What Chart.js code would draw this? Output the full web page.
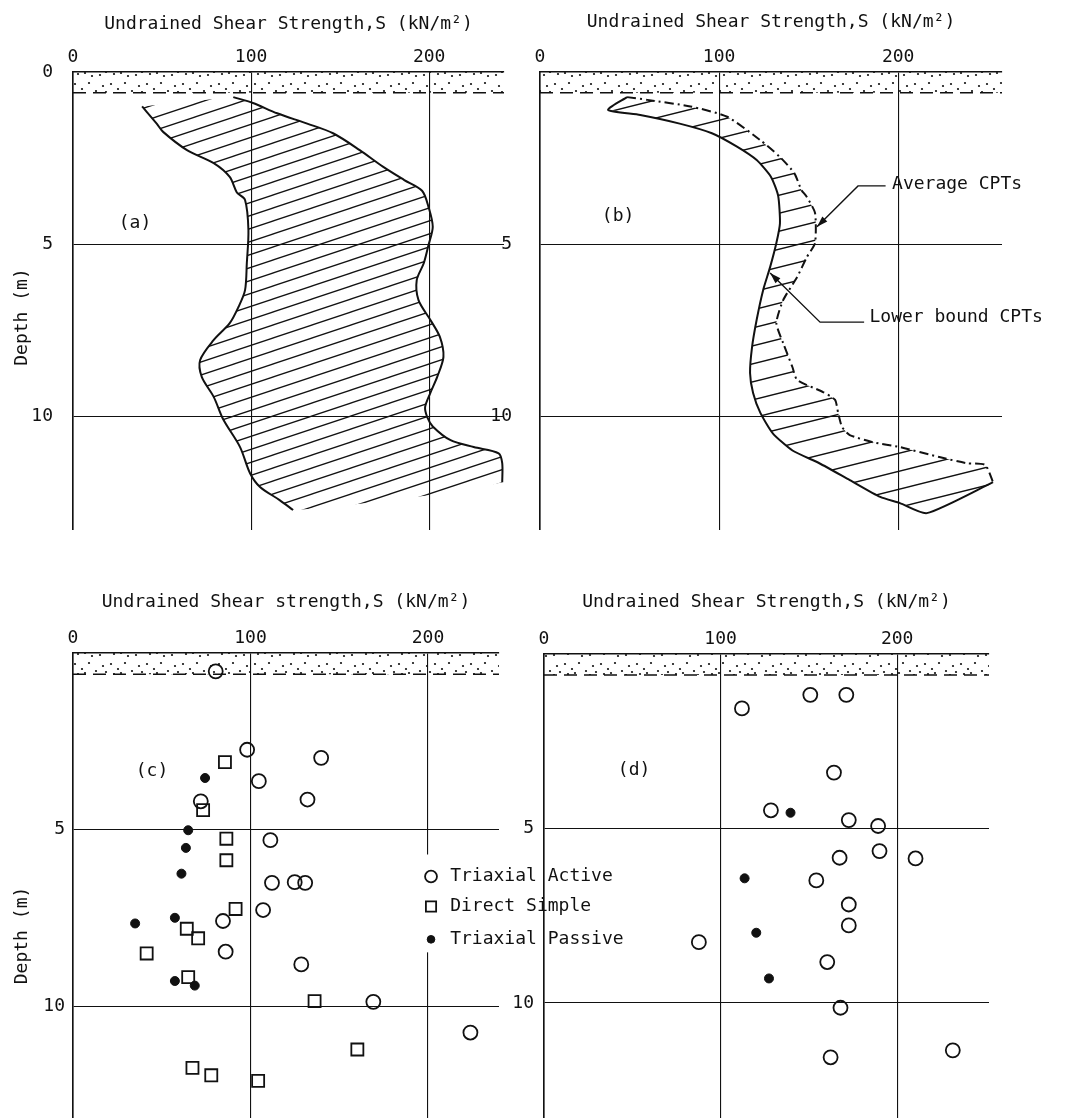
<!DOCTYPE html>
<html lang="en">
<head>
<meta charset="utf-8">
<title>Undrained shear strength profiles</title>
<script src="https://cdn.jsdelivr.net/npm/chart.js@4.4.1/dist/chart.umd.min.js"></script>
<style>
  html, body { margin: 0; background: #fff; }
  #page { position: relative; width: 1072px; height: 1118px; overflow: hidden; }
  #page canvas { position: absolute; }
</style>
</head>
<body>
<div id="page">
  <canvas id="panelA" width="530" height="545" style="left:0px;top:0px"></canvas>
  <canvas id="panelB" width="592" height="545" style="left:480px;top:0px"></canvas>
  <canvas id="panelC" width="660" height="572" style="left:0px;top:560px"></canvas>
  <canvas id="panelD" width="582" height="572" style="left:490px;top:560px"></canvas>
</div>
<script>
const strengthTicks = [0, 100, 200];
const depthTicks = [0, 5, 10];
const surfaceCrust = 0.6; // m, dotted crust at the top of every profile
const seriesNames = ['Triaxial Active', 'Direct Simple', 'Triaxial Passive'];

// (a) range of strength, left and right edge of the hatched band
const aLowS = [38.8, 47, 50.6, 64, 79, 88, 92, 96.6, 98.5, 97.6, 96.6, 92.9, 88, 78.8, 71.4, 72.3, 79, 84.4, 93.8, 99.4, 105, 116, 123.6];
const aLowZ = [1.0, 1.5, 1.74, 2.27, 2.65, 3.05, 3.5, 3.72, 4.6, 5.55, 6.34, 6.83, 7.3, 7.8, 8.37, 8.86, 9.44, 10.1, 10.9, 11.66, 12.06, 12.44, 12.73];
const aHighS = [90, 101, 114.6, 131.5, 146, 161, 174, 186, 196, 199.6, 202, 199.6, 197, 193, 194, 200.6, 206, 208, 204.5, 200.6, 197.7, 198.9, 202, 212, 225, 239, 241, 241];
const aHighZ = [0.73, 0.9, 1.2, 1.5, 1.78, 2.27, 2.75, 3.14, 3.45, 3.92, 4.5, 5.03, 5.55, 6.05, 6.63, 7.2, 7.7, 8.28, 8.86, 9.33, 9.74, 10.03, 10.3, 10.7, 10.9, 11.08, 11.37, 11.92];

// (b) CPT profiles
const bLowerS = [38, 56, 78, 96, 110, 121, 129, 133, 134, 132, 128.5, 124.6, 121, 118.4, 117.3, 119, 123, 130, 141, 156, 173, 190, 201, 216];
const bLowerZ = [1.1, 1.25, 1.5, 1.78, 2.17, 2.56, 3.05, 3.6, 4.4, 4.97, 5.67, 6.34, 7.2, 8.0, 8.75, 9.33, 9.9, 10.5, 11.0, 11.37, 11.86, 12.35, 12.53, 12.82];
const bAverageS = [48.6, 60, 84, 104.5, 123, 134, 142, 146, 149, 153.6, 153.6, 149, 143.6, 135.8, 132, 135.8, 141, 143.6, 158, 164.8, 166.5, 168.7, 173, 186, 201, 223, 238.5, 248.6, 253];
const bAverageZ = [0.73, 0.81, 1.0, 1.3, 1.98, 2.47, 2.94, 3.43, 3.63, 4.1, 4.97, 5.38, 5.96, 6.63, 7.3, 7.88, 8.58, 8.95, 9.3, 9.53, 9.91, 10.32, 10.55, 10.76, 10.9, 11.19, 11.37, 11.42, 11.92];

// (c) laboratory tests
const cActiveS = [80.4, 98.1, 139.8, 104.7, 132.1, 72, 111.2, 112.1, 124.9, 130.8, 107.1, 84.5, 86, 128.6, 169.2, 223.9];
const cActiveZ = [0.52, 2.74, 2.97, 3.63, 4.15, 4.2, 5.3, 6.51, 6.49, 6.51, 7.28, 7.59, 8.46, 8.82, 9.88, 10.75];
const cSimpleS = [85.6, 73.3, 86.4, 86.4, 91.6, 64.1, 70.5, 41.5, 64.9, 136.1, 160.2, 67.3, 77.9, 104.3];
const cSimpleZ = [3.09, 4.45, 5.26, 5.87, 7.25, 7.81, 8.08, 8.51, 9.18, 9.86, 11.23, 11.75, 11.96, 12.12];
const cPassiveS = [74.4, 64.9, 63.6, 61.1, 35, 57.4, 57.4, 68.6];
const cPassiveZ = [3.54, 5.02, 5.52, 6.25, 7.66, 7.5, 9.29, 9.42];

// (d)
const dActiveS = [112.1, 150.8, 171.2, 164.2, 128.5, 172.6, 189.2, 167.4, 190, 210.4, 154.2, 172.6, 172.6, 87.7, 160.4, 167.9, 162.3, 231.5];
const dActiveZ = [1.56, 1.17, 1.17, 3.4, 4.48, 4.76, 4.93, 5.84, 5.65, 5.86, 6.49, 7.18, 7.78, 8.26, 8.83, 10.14, 11.56, 11.36];
const dPassiveS = [139.6, 113.6, 120.2, 127.4];
const dPassiveZ = [4.55, 6.43, 7.99, 9.3];

const ink = '#111';
const monoFont = {family: '"DejaVu Sans Mono", monospace', size: 18};
const titleAB = 'Undrained Shear Strength,S (kN/m²)';
const titleC = 'Undrained Shear strength,S (kN/m²)';

const pts = (s, z) => s.map((v, i) => ({x: v, y: z[i]}));

// diagonal hatching used for the strength bands
function hatch(w, h, lw) {
  const c = document.createElement('canvas');
  c.width = w; c.height = h;
  const g = c.getContext('2d');
  g.strokeStyle = ink; g.lineWidth = lw;
  [-h, 0, h].forEach(off => {
    g.beginPath();
    g.moveTo(-w, 2 * h + off);
    g.lineTo(2 * w, -h + off);
    g.stroke();
  });
  return g.createPattern(c, 'repeat');
}

// sand dots for the crust
function sandDots() {
  const c = document.createElement('canvas');
  c.width = 36; c.height = 20;
  const g = c.getContext('2d');
  g.fillStyle = ink;
  [[3, 4], [10, 9], [17, 3], [24, 11], [31, 6], [6, 14], [20, 16], [28, 15], [13, 13], [34, 12]].forEach(([x, y]) => {
    g.beginPath(); g.arc(x, y, 1.1, 0, Math.PI * 2); g.fill();
  });
  return g.createPattern(c, 'repeat');
}

function crust(xMax) {
  return {
    data: [{x: 0, y: surfaceCrust}, {x: xMax, y: surfaceCrust}],
    borderColor: ink, borderWidth: 1.5, borderDash: [13, 7],
    backgroundColor: sandDots(), fill: {value: 0}, pointRadius: 0
  };
}

function marks(data, style, radius, filled) {
  return {
    data, showLine: false, pointStyle: style, pointRadius: radius,
    pointBorderWidth: filled ? 1 : 1.8, pointBorderColor: ink,
    pointBackgroundColor: filled ? ink : 'rgba(0,0,0,0)'
  };
}

function drawMark(ctx, ds, px, py, k) {
  const r = ds.pointRadius * k;
  ctx.save();
  ctx.lineWidth = ds.pointBorderWidth;
  ctx.strokeStyle = ds.pointBorderColor;
  ctx.fillStyle = ds.pointBackgroundColor;
  ctx.beginPath();
  if (ds.pointStyle === 'rect') {
    const h = r * Math.SQRT1_2;
    ctx.rect(px - h, py - h, 2 * h, 2 * h);
  } else {
    ctx.arc(px, py, r, 0, Math.PI * 2);
  }
  ctx.fill(); ctx.stroke();
  ctx.restore();
}

// panel letters, leaders, depth title and the legend of (c)
const notesPlugin = {
  id: 'notes',
  beforeDatasetsDraw(chart, args, o) {
    if (!o.legend) return;
    const {ctx, scales: {x, y}} = chart;
    const L = o.legend;
    const x0 = x.getPixelForValue(L.x) - 12;
    const y0 = y.getPixelForValue(L.rows[0]) - 22;
    const y1 = y.getPixelForValue(L.rows[L.rows.length - 1]) + 13;
    ctx.save();
    ctx.fillStyle = '#fff';
    ctx.fillRect(x0, y0, chart.chartArea.right - x0 + 2, y1 - y0);
    ctx.restore();
  },
  afterDraw(chart, args, o) {
    const {ctx, scales: {x, y}} = chart;
    ctx.save();
    ctx.fillStyle = ink; ctx.strokeStyle = ink;
    ctx.font = '18px "DejaVu Sans Mono", monospace';
    ctx.textBaseline = 'middle';
    (o.texts || []).forEach(t => {
      ctx.textAlign = t.align || 'center';
      ctx.fillText(t.text, x.getPixelForValue(t.at[0]), y.getPixelForValue(t.at[1]));
    });
    if (o.depthTitle) {
      ctx.save();
      ctx.translate(y.left + 22, y.getPixelForValue(o.depthTitle));
      ctx.rotate(-Math.PI / 2);
      ctx.textAlign = 'center';
      ctx.fillText('Depth (m)', 0, 0);
      ctx.restore();
    }
    (o.leaders || []).forEach(path => {
      const p = path.map(q => [x.getPixelForValue(q[0]), y.getPixelForValue(q[1])]);
      ctx.lineWidth = 1.4;
      ctx.beginPath();
      p.forEach((q, i) => i ? ctx.lineTo(q[0], q[1]) : ctx.moveTo(q[0], q[1]));
      ctx.stroke();
      const [ax, ay] = p[p.length - 1], [bx, by] = p[p.length - 2];
      const a = Math.atan2(ay - by, ax - bx);
      ctx.beginPath();
      ctx.moveTo(ax, ay);
      ctx.lineTo(ax - 11 * Math.cos(a) + 3.5 * Math.sin(a), ay - 11 * Math.sin(a) - 3.5 * Math.cos(a));
      ctx.lineTo(ax - 11 * Math.cos(a) - 3.5 * Math.sin(a), ay - 11 * Math.sin(a) + 3.5 * Math.cos(a));
      ctx.closePath();
      ctx.fill();
    });
    if (o.legend) {
      const L = o.legend;
      L.rows.forEach((z, i) => {
        const py = y.getPixelForValue(z);
        drawMark(ctx, chart.data.datasets[i], x.getPixelForValue(L.x), py, 0.85);
        ctx.textAlign = 'left';
        ctx.fillText(L.labels[i], x.getPixelForValue(L.textX), py);
      });
    }
    ctx.restore();
  }
};

function noEdgePadding(s) {
  s.paddingTop = 0; s.paddingBottom = 0; s.paddingLeft = 0; s.paddingRight = 0;
}

function axes(p) {
  return {
    x: {
      type: 'linear', position: 'top', min: 0, max: p.xMax,
      afterBuildTicks: s => { s.ticks = strengthTicks.map(v => ({value: v})); },
      afterFit: s => { s.height = p.top; noEdgePadding(s); },
      border: {color: ink, width: 1.6},
      grid: {color: ink, lineWidth: 1.1, drawTicks: false},
      ticks: {color: ink, font: monoFont, padding: 4, maxRotation: 0},
      title: {display: true, text: p.title, color: ink, font: monoFont, padding: {top: p.titlePad, bottom: 0}}
    },
    y: {
      type: 'linear', reverse: true, min: 0, max: p.zMax,
      afterBuildTicks: s => { s.ticks = depthTicks.map(v => ({value: v})); },
      afterFit: s => { s.width = p.left; noEdgePadding(s); },
      border: {color: ink, width: 1.6},
      grid: {color: ink, lineWidth: 1.1, drawTicks: false},
      ticks: {color: ink, font: monoFont, padding: p.tickPad,
        callback: v => (v === 0 && !p.zeroLabel) ? '' : v}
    }
  };
}

function panel(id, datasets, p, notes) {
  return new Chart(document.getElementById(id), {
    type: 'line',
    data: {datasets},
    options: {
      responsive: false, animation: false, events: [],
      layout: {padding: {left: 0, top: 0, right: p.right, bottom: p.bottom}},
      scales: axes(p),
      plugins: {legend: {display: false}, tooltip: {enabled: false}, notes}
    },
    plugins: [notesPlugin]
  });
}

// (a)
const aLow = pts(aLowS, aLowZ);
const aHigh = pts(aHighS, aHighZ);
panel('panelA', [
  {data: aLow, borderColor: ink, borderWidth: 2, pointRadius: 0, tension: 0.3},
  {data: aHigh, borderColor: ink, borderWidth: 2, pointRadius: 0, tension: 0.3},
  {data: aLow.concat(aHigh.slice().reverse()), borderColor: 'rgba(0,0,0,0)', borderWidth: 0,
    backgroundColor: hatch(39, 13, 1.3), fill: 'shape', pointRadius: 0, tension: 0.3},
  crust(242)
], {xMax: 242, zMax: 13.31, top: 72, left: 73, right: 26, bottom: 15, titlePad: 14, tickPad: 20,
    zeroLabel: true, title: titleAB},
{texts: [{text: '(a)', at: [34.8, 4.39]}], depthTitle: 7.12});

// (b)
const bLower = pts(bLowerS, bLowerZ);
const bAverage = pts(bAverageS, bAverageZ);
panel('panelB', [
  {data: [bAverage[0]].concat(bLower, [bAverage[bAverage.length - 1]]), borderColor: ink, borderWidth: 2,
    pointRadius: 0, tension: 0.2},
  {data: bAverage, borderColor: ink, borderWidth: 2, borderDash: [9, 4, 2, 4], pointRadius: 0, tension: 0.2},
  {data: bLower.concat(bAverage.slice().reverse()), borderColor: 'rgba(0,0,0,0)', borderWidth: 0,
    backgroundColor: hatch(72, 18, 1.4), fill: 'shape', pointRadius: 0, tension: 0.2},
  crust(258)
], {xMax: 258, zMax: 13.31, top: 72, left: 60, right: 70, bottom: 15, titlePad: 12, tickPad: 28, title: titleAB},
{
  texts: [
    {text: '(b)', at: [43.6, 4.2]},
    {text: 'Average CPTs', at: [196.6, 3.26], align: 'left'},
    {text: 'Lower bound CPTs', at: [184, 7.12], align: 'left'}
  ],
  leaders: [
    [[193, 3.31], [177.6, 3.31], [154.7, 4.5]],
    [[181, 7.27], [156.4, 7.27], [128.5, 5.84]]
  ]
});

// (c)
panel('panelC', [
  marks(pts(cActiveS, cActiveZ), 'circle', 7, false),
  marks(pts(cSimpleS, cSimpleZ), 'rect', 8.5, false),
  marks(pts(cPassiveS, cPassiveZ), 'circle', 4.5, true),
  crust(240)
], {xMax: 240, zMax: 13.17, top: 93, left: 73, right: 161, bottom: 14, titlePad: 32, tickPad: 8, title: titleC},
{
  texts: [{text: '(c)', at: [44.5, 3.36]}],
  depthTitle: 8.0,
  legend: {x: 201.7, textX: 212.5, rows: [6.33, 7.18, 8.11], labels: seriesNames}
});

// (d)
panel('panelD', [
  marks(pts(dActiveS, dActiveZ), 'circle', 7, false),
  marks(pts(dPassiveS, dPassiveZ), 'circle', 4.5, true),
  crust(252)
], {xMax: 252, zMax: 13.3, top: 94, left: 54, right: 83, bottom: 14, titlePad: 32, tickPad: 10, title: titleAB},
{texts: [{text: '(d)', at: [51, 3.33]}]});
</script>
</body>
</html>
